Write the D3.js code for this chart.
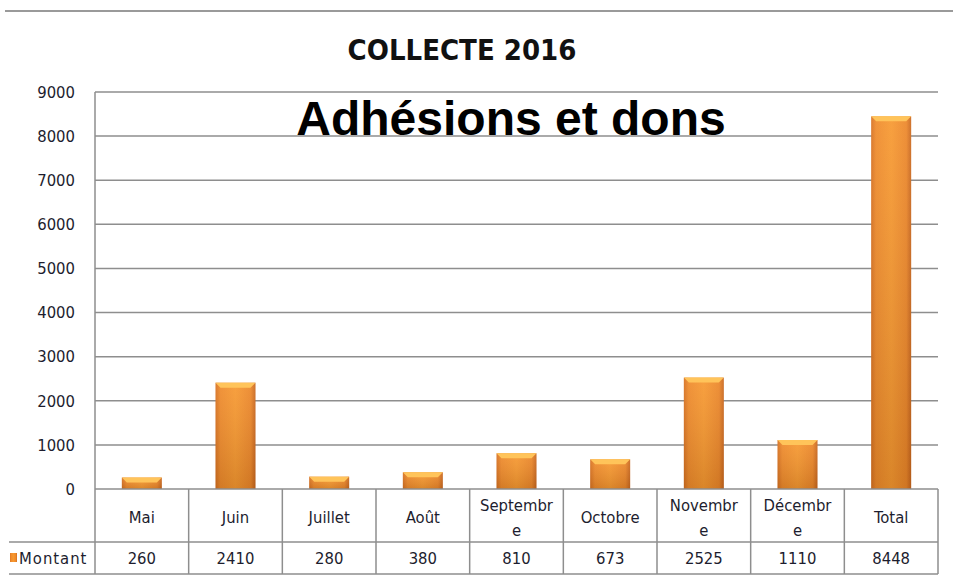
<!DOCTYPE html>
<html>
<head>
<meta charset="utf-8">
<title>COLLECTE 2016</title>
<script src="https://cdn.jsdelivr.net/npm/d3@7/dist/d3.min.js"></script>
<style>
  body { margin: 0; background: #fff; }
  svg text { font-family: "Liberation Sans Narrow", "DejaVu Sans Condensed", "Liberation Sans", sans-serif; }
</style>
</head>
<body>
<script>
// data
var categories = ["Mai", "Juin", "Juillet", "Août", "Septembre", "Octobre", "Novembre", "Décembre", "Total"];
var cellLabels = ["Mai", "Juin", "Juillet", "Août", "Septembr\ne", "Octobre", "Novembr\ne", "Décembr\ne", "Total"];
var montant = [260, 2410, 280, 380, 810, 673, 2525, 1110, 8448];
var yTicks = [0, 1000, 2000, 3000, 4000, 5000, 6000, 7000, 8000, 9000];
var seriesName = "Montant";

var width = 953, height = 577;
var plotLeft = 95, plotRight = 938, plotTop = 92, plotBottom = 489;
var rowMid = 542, rowEnd = 574, tableLeft = 9;
var txtColor = "#1d1d2e", lineColor = "#8e8e8e";

var svg = d3.select("body").append("svg")
    .attr("width", width)
    .attr("height", height);

var defs = svg.append("defs");
var gH = defs.append("linearGradient").attr("id", "barH")
    .attr("x1", 0).attr("x2", 1).attr("y1", 0).attr("y2", 0);
gH.append("stop").attr("offset", "0%").attr("stop-color", "#d7701f");
gH.append("stop").attr("offset", "12%").attr("stop-color", "#ef8a2a");
gH.append("stop").attr("offset", "50%").attr("stop-color", "#f7982f");
gH.append("stop").attr("offset", "88%").attr("stop-color", "#ec8628");
gH.append("stop").attr("offset", "100%").attr("stop-color", "#c9661c");
var gV = defs.append("linearGradient").attr("id", "barV")
    .attr("x1", 0).attr("x2", 0).attr("y1", 0).attr("y2", 1);
gV.append("stop").attr("offset", "0%").attr("stop-color", "#fff").attr("stop-opacity", 0.08);
gV.append("stop").attr("offset", "100%").attr("stop-color", "#000").attr("stop-opacity", 0.12);

// top rule
svg.append("line")
    .attr("x1", 5).attr("x2", width).attr("y1", 11).attr("y2", 11)
    .attr("stroke", "#9a9a9a").attr("stroke-width", 2);

var x = d3.scaleBand().domain(categories).range([plotLeft, plotRight]).paddingInner(0).paddingOuter(0);
var y = d3.scaleLinear().domain([0, 9000]).range([plotBottom, plotTop]);

// gridlines
svg.append("g").selectAll("line")
    .data(yTicks.slice(1))
  .enter().append("line")
    .attr("x1", plotLeft).attr("x2", plotRight)
    .attr("y1", function(d) { return y(d); })
    .attr("y2", function(d) { return y(d); })
    .attr("stroke", lineColor).attr("stroke-width", 1.5);

// y axis
var yAxis = d3.axisLeft(y).tickValues(yTicks).tickFormat(d3.format("d")).tickSize(0).tickPadding(20);
var gy = svg.append("g")
    .attr("transform", "translate(" + plotLeft + ",0)")
    .call(yAxis);
gy.select(".domain").attr("stroke", lineColor).attr("stroke-width", 1.5)
    .attr("d", "M0," + plotTop + "V" + rowEnd);
gy.selectAll("text").attr("font-size", 16.5).attr("fill", txtColor);

// subtitle
svg.append("text")
    .attr("x", 511).attr("y", 135)
    .attr("text-anchor", "middle")
    .style("font-family", "'Liberation Sans', Arial, sans-serif")
    .attr("font-weight", "bold")
    .attr("font-size", 48)
    .attr("fill", "#000")
    .text("Adhésions et dons");

// title
svg.append("text")
    .attr("x", 462).attr("y", 60)
    .attr("text-anchor", "middle")
    .attr("font-weight", "bold")
    .attr("font-size", 29)
    .attr("fill", "#111")
    .text("COLLECTE 2016");

// bars
var bw = 40;
var bars = svg.append("g").selectAll("g.bar")
    .data(montant)
  .enter().append("g").attr("class", "bar");
bars.append("rect")
    .attr("x", function(d, i) { return x(categories[i]) + x.bandwidth() / 2 - bw / 2; })
    .attr("y", function(d) { return y(d); })
    .attr("width", bw)
    .attr("height", function(d) { return y(0) - y(d); })
    .attr("fill", "url(#barH)");
bars.append("rect")
    .attr("x", function(d, i) { return x(categories[i]) + x.bandwidth() / 2 - bw / 2; })
    .attr("y", function(d) { return y(d); })
    .attr("width", bw)
    .attr("height", function(d) { return y(0) - y(d); })
    .attr("fill", "url(#barV)");
// top bevel
bars.append("path")
    .attr("d", function(d, i) {
        var x0 = x(categories[i]) + x.bandwidth() / 2 - bw / 2, y0 = y(d);
        return "M" + x0 + "," + y0 + "H" + (x0 + bw) + "L" + (x0 + bw - 5) + "," + (y0 + 5) + "H" + (x0 + 5) + "Z";
    })
    .attr("fill", "#ffc45a");

// table
var tbl = svg.append("g");
tbl.append("line").attr("x1", plotLeft).attr("x2", plotRight).attr("y1", plotBottom).attr("y2", plotBottom)
    .attr("stroke", lineColor).attr("stroke-width", 1.5);
[rowMid, rowEnd].forEach(function(yy) {
    tbl.append("line").attr("x1", tableLeft).attr("x2", plotRight).attr("y1", yy).attr("y2", yy)
        .attr("stroke", lineColor).attr("stroke-width", 1.5);
});
tbl.selectAll("line.v")
    .data(categories)
  .enter().append("line").attr("class", "v")
    .attr("x1", function(d) { return x(d) + x.bandwidth(); })
    .attr("x2", function(d) { return x(d) + x.bandwidth(); })
    .attr("y1", plotBottom).attr("y2", rowEnd)
    .attr("stroke", lineColor).attr("stroke-width", 1.5);

var cells = tbl.selectAll("text.cat")
    .data(cellLabels)
  .enter().append("text").attr("class", "cat")
    .attr("text-anchor", "middle")
    .attr("font-size", 16.5)
    .attr("fill", txtColor)
    .attr("x", function(d, i) { return x(categories[i]) + x.bandwidth() / 2; })
    .attr("y", function(d) { return d.indexOf("\n") >= 0 ? 511 : 523; });
cells.each(function(d) {
    var t = d3.select(this);
    d.split("\n").forEach(function(s, k) {
        t.append("tspan").attr("x", t.attr("x")).attr("dy", k ? 25 : 0).text(s);
    });
});

tbl.selectAll("text.val")
    .data(montant)
  .enter().append("text").attr("class", "val")
    .attr("text-anchor", "middle")
    .attr("font-size", 16.5)
    .attr("fill", txtColor)
    .attr("x", function(d, i) { return x(categories[i]) + x.bandwidth() / 2; })
    .attr("y", 564)
    .text(function(d) { return d; });

// legend key
tbl.append("rect").attr("x", 10).attr("y", 553).attr("width", 7).attr("height", 9)
    .attr("fill", "url(#barH)");
tbl.append("text").attr("x", 19).attr("y", 564)
    .attr("font-size", 16.5).attr("fill", txtColor)
    .attr("letter-spacing", 1)
    .text(seriesName);
</script>
</body>
</html>
